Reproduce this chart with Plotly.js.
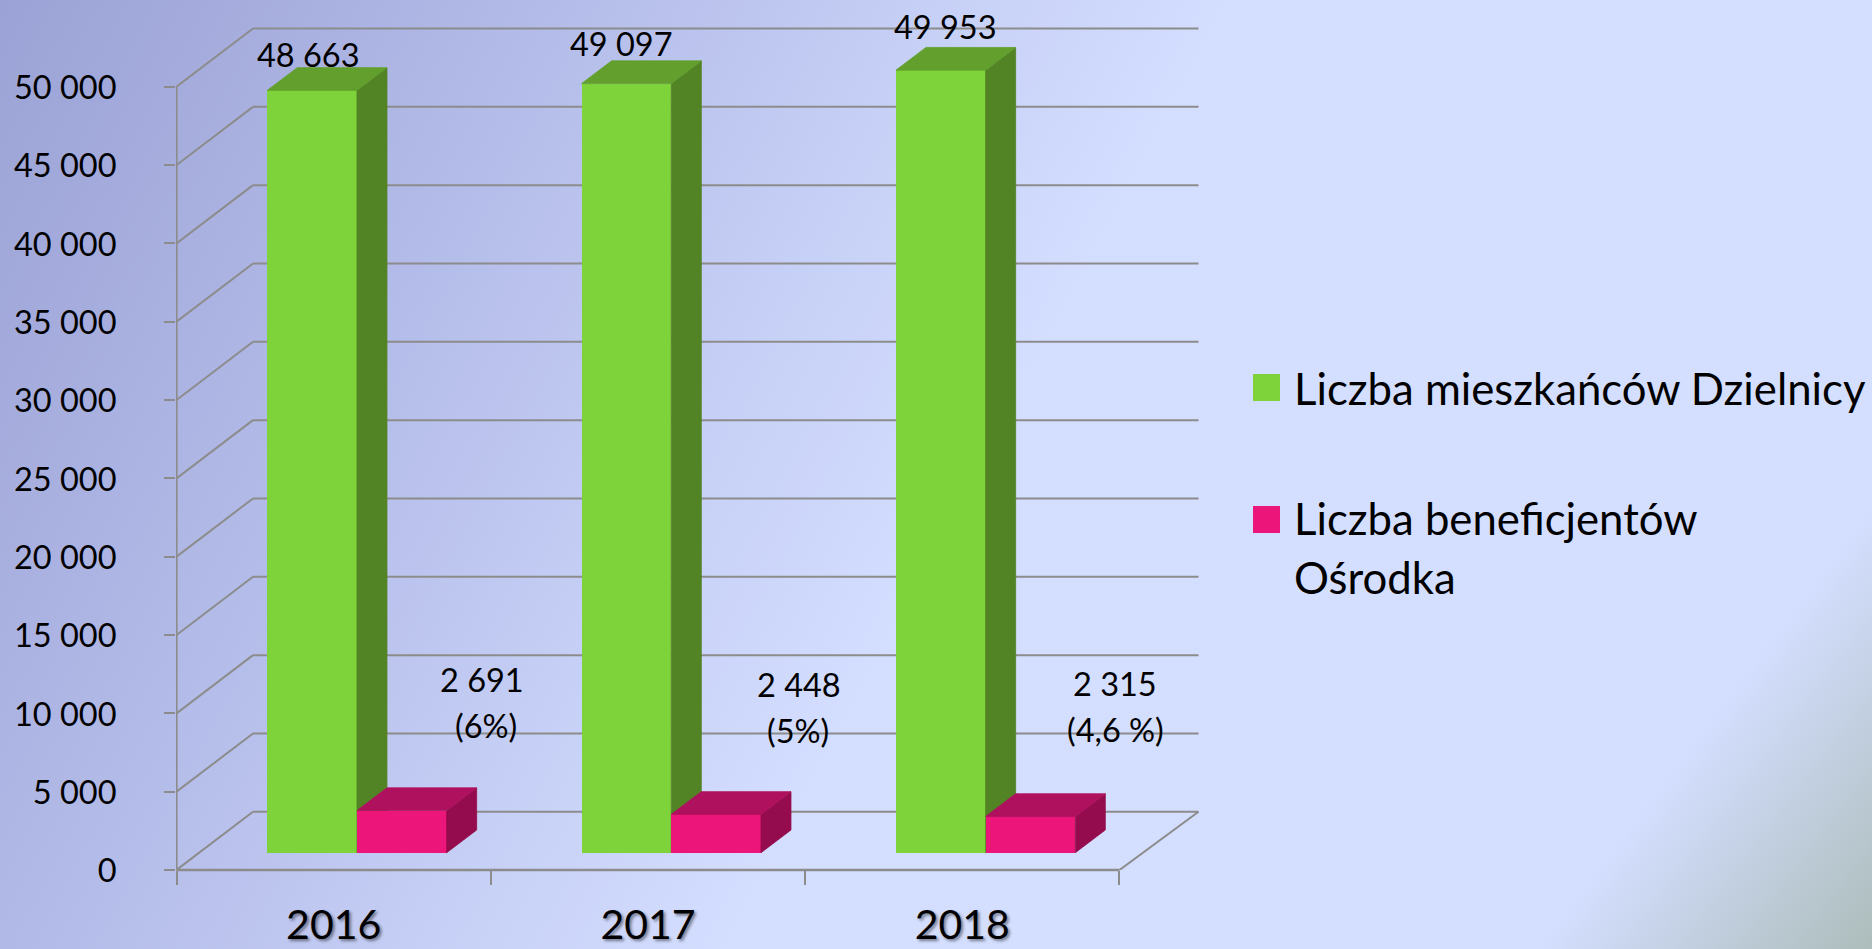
<!DOCTYPE html>
<html><head><meta charset="utf-8">
<script src="https://cdn.plot.ly/plotly-3.0.1.min.js"></script>
<style>
html,body{margin:0;padding:0;width:1872px;height:949px;overflow:hidden}
body{background:
 linear-gradient(127deg, rgba(212,222,255,0) 87%, #adbdbb 100%),
 linear-gradient(118deg,#9ba2d5 0%,#b4bce9 24%,#c6cff5 39%,#d4deff 52%,#d4deff 100%);}
#chart{width:1872px;height:949px}
</style></head><body><div id="chart"></div>
<script>
const years=['2016','2017','2018'];
const seriesNames=['Liczba mieszkańców Dzielnicy','Liczba beneficjentów','Ośrodka'];
const residents=[48663,49097,49953];
const beneficiaries=[2691,2448,2315];
const residentLabels=['48 663','49 097','49 953'];
const beneficiaryLabels=['2 691','2 448','2 315'];
const shareLabels=['(6%)','(5%)','(4,6 %)'];
const yTicks=[0,5000,10000,15000,20000,25000,30000,35000,40000,45000,50000];
const yTickText=['0','5 000','10 000','15 000','20 000','25 000','30 000','35 000','40 000','45 000','50 000'];

const GRID='#8c8c8c', GREEN='#7ed23a', GREEN_TOP='#629f2d', GREEN_SIDE='#528325',
      PINK='#ec167a', PINK_TOP='#b0115e', PINK_SIDE='#940c4d';
// projection constants, data units
const pxX=314.33, pxY=0.015666;
const wallDy=58.2/pxY, wallDx0=76.5/pxX, wallDx1=79/pxX;
const floorY=1104, barW=0.2853, depthX=0.0954, depthY=1449;
const greenX=0.2889, pinkX=0.5742;
const M={l:176,r:670,t:20,b:79};
const plotW=1872-M.l-M.r, plotH=949-M.t-M.b;
const xr=[-0.5/pxX,(plotW-0.5)/pxX], yr=[0,plotH/pxY];

const shapes=[];
function seg(x0,y0,x1,y1,w){shapes.push({type:'line',layer:'below',xref:'x',yref:'y',x0,y0,x1,y1,line:{color:GRID,width:w||2}});}
yTicks.forEach(v=>{
  seg(0,v,wallDx0,v+wallDy);
  seg(wallDx0,v+wallDy,3+wallDx1,v+wallDy);
});
seg(0,0,0,50000,2.2);
seg(3,0,3+wallDx1,wallDy);
shapes.push({type:'line',layer:'below',xref:'x',yref:'paper',x0:0,x1:3,y0:0,y1:0,line:{color:GRID,width:2.4}});

function faces(i,x0,val,axis,side,top){
  const x1=x0+barW, y0=floorY, y1=floorY+val;
  const a=axis||{};
  return [
   Object.assign({type:'scatter',mode:'lines',fill:'toself',fillcolor:side,line:{width:0.8,color:side},hoverinfo:'skip',showlegend:false,
    x:[i+x1,i+x1+depthX,i+x1+depthX,i+x1,i+x1],y:[y0,y0+depthY,y1+depthY,y1,y0]},a),
   Object.assign({type:'scatter',mode:'lines',fill:'toself',fillcolor:top,line:{width:0.8,color:top},hoverinfo:'skip',showlegend:false,
    x:[i+x0,i+x0+depthX,i+x1+depthX,i+x1,i+x0],y:[y1,y1+depthY,y1+depthY,y1,y1]},a)];
}
const idx=years.map((_,i)=>i);
const traces=[];
idx.forEach(i=>traces.push(...faces(i,greenX,residents[i],null,GREEN_SIDE,GREEN_TOP)));
traces.push({type:'bar',name:seriesNames[0],x:idx.map(i=>i+greenX+barW/2),y:residents,base:idx.map(()=>floorY),width:barW,marker:{color:GREEN},showlegend:false});
const over={xaxis:'x2',yaxis:'y2'};
idx.forEach(i=>traces.push(...faces(i,pinkX,beneficiaries[i],over,PINK_SIDE,PINK_TOP)));
traces.push({type:'bar',name:seriesNames[1]+' '+seriesNames[2],x:idx.map(i=>i+pinkX+barW/2),y:beneficiaries,base:idx.map(()=>floorY),width:barW,marker:{color:PINK},showlegend:false,xaxis:'x2',yaxis:'y2'});

const FONT='Lato, sans-serif';
const ann=[];
function pxText(t,px,py,size,anchor){ann.push({xref:'paper',yref:'paper',x:(px-M.l)/plotW,y:(949-M.b-py)/plotH,text:t,showarrow:false,
  font:{family:FONT,size:size,color:'#000'},xanchor:anchor||'center',yanchor:'middle'});}
const residentLabelPx=[[308.8,55],[621,43],[945,26.7]];
const benefLabelPx=[[481.6,679],[799,684],[1115,683]];
const shareLabelPx=[[485.7,725],[797.5,730],[1115.7,729]];
idx.forEach(i=>{
  pxText(residentLabels[i],residentLabelPx[i][0],residentLabelPx[i][1],32.5);
  pxText(beneficiaryLabels[i],benefLabelPx[i][0],benefLabelPx[i][1],32.5);
  pxText(shareLabels[i],shareLabelPx[i][0],shareLabelPx[i][1],32.5);
});
pxText(seriesNames[0],1292,388,43.7,'left');
pxText(seriesNames[1],1292,518,43.7,'left');
pxText(seriesNames[2],1292,577,43.7,'left');
function swatch(px,py,c){shapes.push({type:'rect',xref:'paper',yref:'paper',x0:(px-M.l)/plotW,x1:(px+27-M.l)/plotW,y0:(870-py)/plotH,y1:(870-py-27)/plotH,fillcolor:c,line:{width:0}});}
swatch(1253,374,GREEN);
swatch(1253,506,PINK);

const layout={
  width:1872,height:949,margin:{l:M.l,r:M.r,t:M.t,b:M.b,pad:0},
  paper_bgcolor:'rgba(0,0,0,0)',plot_bgcolor:'rgba(0,0,0,0)',
  showlegend:false,bargap:0,barmode:'overlay',
  xaxis:{range:xr,tickmode:'array',tickvals:idx.map(i=>i+0.5),ticktext:years,ticks:'',showgrid:false,zeroline:false,showline:false,
    tickfont:{family:FONT,size:41,color:'#000',shadow:'2px 2px 3px rgba(0,0,0,.45)'},ticklabelstandoff:27,
    minor:{tickmode:'array',tickvals:[0,1,2,3],ticks:'outside',ticklen:14,tickwidth:2,tickcolor:GRID,showgrid:false}},
  yaxis:{range:yr,tickmode:'array',tickvals:yTicks,ticktext:yTickText,ticks:'outside',ticklen:11,tickwidth:2,tickcolor:GRID,showgrid:false,zeroline:false,showline:false,
    tickfont:{family:FONT,size:32.5,color:'#000'},ticklabelstandoff:41,ticklabelshift:1},
  xaxis2:{range:xr,overlaying:'x',visible:false},
  yaxis2:{range:yr,overlaying:'y',visible:false},
  shapes,annotations:ann
};
Plotly.newPlot('chart',traces,layout,{staticPlot:true,displayModeBar:false});
</script></body></html>
